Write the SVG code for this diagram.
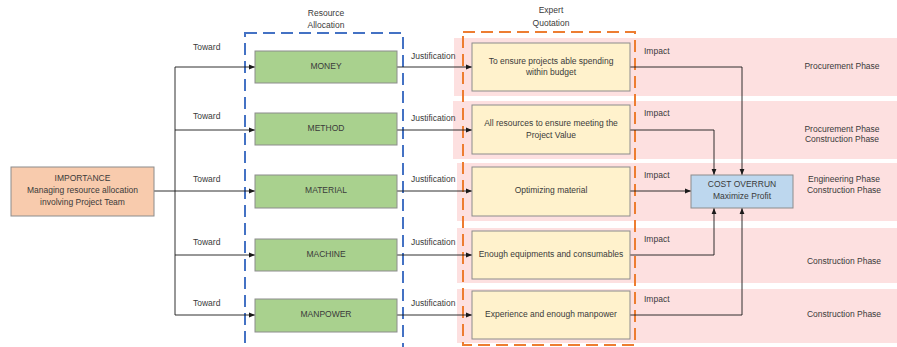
<svg xmlns="http://www.w3.org/2000/svg" width="897" height="347" viewBox="0 0 897 347">
<style>
text{font-family:"Liberation Sans",Arial,sans-serif;font-size:8.5px;fill:#3a3a3a;text-anchor:middle;dominant-baseline:middle}
.lab{text-anchor:start}
.band{fill:#fde0e0}
.node{stroke:#8c8c8c;stroke-width:1}
.imp{fill:#f8cbad}
.res{fill:#a9d18e}
.exp{fill:#fff2cc}
.cost{fill:#bdd7ee}
.conn{fill:none;stroke:#1a1a1a;stroke-width:0.9;marker-end:url(#ah)}
.line{fill:none;stroke:#1a1a1a;stroke-width:0.9}
</style>
<defs>
<marker id="ah" viewBox="0 0 10 10" refX="10" refY="5" markerWidth="6" markerHeight="6" markerUnits="userSpaceOnUse" orient="auto"><path d="M0,1 L10,5 L0,9 z" fill="#1a1a1a"/></marker>
</defs>
<rect width="897" height="347" fill="#fff"/>
<g id="bands">
<rect class="band" x="454" y="38" width="443" height="58"/>
<rect class="band" x="453" y="101" width="444" height="58"/>
<rect class="band" x="457" y="163" width="440" height="58"/>
<rect class="band" x="457" y="228" width="440" height="55"/>
<rect class="band" x="457" y="289" width="440" height="54"/>
</g>
<g id="groups">
<rect x="245" y="33" width="158" height="330" fill="none" stroke="#4472c4" stroke-width="2" stroke-dasharray="12 6"/>
<text x="326" y="14">Resource</text>
<text x="326" y="26">Allocation</text>
<rect x="463" y="32" width="172" height="313" fill="none" stroke="#ed7d31" stroke-width="2" stroke-dasharray="12 6"/>
<text x="551" y="11">Expert</text>
<text x="551" y="24">Quotation</text>
</g>
<g id="connectors">
<path class="line" d="M154,191 H175 M175,67 V315"/>
<path class="conn" d="M175,67 H255"/>
<path class="conn" d="M175,130 H255"/>
<path class="conn" d="M175,191 H255"/>
<path class="conn" d="M175,255 H255"/>
<path class="conn" d="M175,315 H255"/>
<path class="conn" d="M397,67 H472"/>
<path class="conn" d="M397,130 H472"/>
<path class="conn" d="M397,191 H472"/>
<path class="conn" d="M397,255 H472"/>
<path class="conn" d="M397,315 H472"/>
<path class="conn" d="M630,67 H742 V175"/>
<path class="conn" d="M630,130 H714 V175"/>
<path class="conn" d="M630,191 H691"/>
<path class="conn" d="M630,255 H714 V208"/>
<path class="conn" d="M630,315 H742 V208"/>
<text class="lab" x="193" y="48">Toward</text>
<text class="lab" x="193" y="117">Toward</text>
<text class="lab" x="193" y="180">Toward</text>
<text class="lab" x="193" y="243">Toward</text>
<text class="lab" x="193" y="304">Toward</text>
<text class="lab" x="411" y="57">Justification</text>
<text class="lab" x="411" y="119">Justification</text>
<text class="lab" x="411" y="180">Justification</text>
<text class="lab" x="411" y="243">Justification</text>
<text class="lab" x="411" y="304">Justification</text>
<text class="lab" x="644" y="52">Impact</text>
<text class="lab" x="644" y="114">Impact</text>
<text class="lab" x="644" y="176">Impact</text>
<text class="lab" x="644" y="240">Impact</text>
<text class="lab" x="644" y="300">Impact</text>
</g>
<g id="importance">
<rect class="node imp" x="11" y="167" width="143" height="49"/>
<text x="82.5" y="179">IMPORTANCE</text>
<text x="82.5" y="191">Managing resource allocation</text>
<text x="82.5" y="203">involving Project Team</text>
</g>
<g id="money"><rect class="node res" x="255" y="51" width="142" height="32"/><text x="326" y="67">MONEY</text></g>
<g id="method"><rect class="node res" x="255" y="113" width="142" height="32"/><text x="326" y="129">METHOD</text></g>
<g id="material"><rect class="node res" x="255" y="175" width="142" height="33"/><text x="326" y="191">MATERIAL</text></g>
<g id="machine"><rect class="node res" x="255" y="239" width="142" height="32"/><text x="326" y="255">MACHINE</text></g>
<g id="manpower"><rect class="node res" x="255" y="299" width="142" height="33"/><text x="326" y="315">MANPOWER</text></g>
<g id="q1"><rect class="node exp" x="472" y="43" width="158" height="48"/><text x="551" y="62">To ensure projects able spending</text><text x="551" y="73">within budget</text></g>
<g id="q2"><rect class="node exp" x="472" y="105" width="158" height="49"/><text x="551" y="124">All resources to ensure meeting the</text><text x="551" y="136">Project Value</text></g>
<g id="q3"><rect class="node exp" x="472" y="167" width="158" height="49"/><text x="551" y="191">Optimizing material</text></g>
<g id="q4"><rect class="node exp" x="472" y="231" width="158" height="48"/><text x="551" y="255">Enough equipments and consumables</text></g>
<g id="q5"><rect class="node exp" x="472" y="291" width="158" height="48"/><text x="551" y="315">Experience and enough manpower</text></g>
<g id="cost"><rect class="node cost" x="691" y="175" width="102" height="33"/><text x="742" y="185">COST OVERRUN</text><text x="742" y="197">Maximize Profit</text></g>
<g id="phases">
<text x="842" y="67">Procurement Phase</text>
<text x="842" y="130">Procurement Phase</text>
<text x="842" y="140">Construction Phase</text>
<text x="844" y="180">Engineering Phase</text>
<text x="844" y="191">Construction Phase</text>
<text x="844" y="262">Construction Phase</text>
<text x="844" y="315">Construction Phase</text>
</g>
</svg>
